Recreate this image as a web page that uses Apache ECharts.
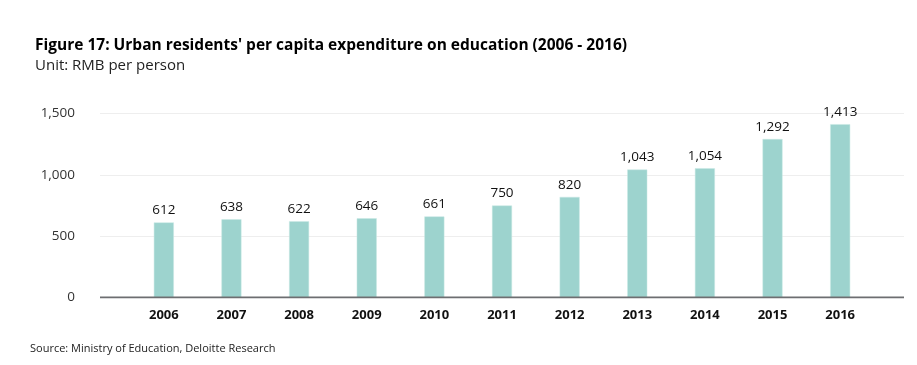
<!DOCTYPE html>
<html><head><meta charset="utf-8">
<script src="https://cdn.jsdelivr.net/npm/echarts@6/dist/echarts.min.js"></script>
<style>html,body{margin:0;padding:0;background:#fff}#c{width:917px;height:365px}</style>
</head><body><div id="c"></div>
<script>
var categories = ['2006','2007','2008','2009','2010','2011','2012','2013','2014','2015','2016'];
var values = [612, 638, 622, 646, 661, 750, 820, 1043, 1054, 1292, 1413];
var yTicks = [0, 500, 1000, 1500];
var titleText = "Figure 17: Urban residents' per capita expenditure on education (2006 - 2016)";
var subText = "Unit: RMB per person";
var sourceText = "Source: Ministry of Education, Deloitte Research";

var FONT = '"Open Sans", "Noto Sans", sans-serif';
function fmt(v){ return Number(v).toLocaleString('en-US'); }
var chart = echarts.init(document.getElementById('c'), null, {renderer:'canvas'});
chart.setOption({
  animation:false,
  textStyle:{fontFamily:FONT},
  title:[
    {text:titleText, left:30, top:33, textStyle:{fontFamily:FONT, fontSize:15.5, fontWeight:'bold', color:'#000'}},
    {text:subText, left:30, top:53, textStyle:{fontFamily:FONT, fontSize:15, fontWeight:'normal', color:'#222'}},
    {text:sourceText, left:25, top:338, textStyle:{fontFamily:FONT, fontSize:11, fontWeight:'normal', color:'#222'}}
  ],
  grid:[
    {left:100, right:13, top:113.5, bottom:67.5},
    {left:130, right:43, top:113.5, bottom:67.5}
  ],
  xAxis:[
    {gridIndex:0, type:'value', min:0, max:1, show:true, axisLabel:{show:false}, axisTick:{show:false}, splitLine:{show:false}, axisLine:{show:false}},
    {gridIndex:1, type:'category', data:categories, axisLine:{show:false}, axisTick:{show:false},
     axisLabel:{fontFamily:FONT, fontSize:13, fontWeight:'bold', color:'#111', margin:11}}
  ],
  yAxis:[
    {gridIndex:0, type:'value', min:0, max:1500, interval:500,
     axisLine:{show:false}, axisTick:{show:false},
     axisLabel:{fontFamily:FONT, fontSize:13.5, color:'#333', margin:25, formatter:function(v){return fmt(v);}},
     splitLine:{lineStyle:{color:'#eeeeee', width:1}}},
    {gridIndex:1, type:'value', min:0, max:1500, interval:500, show:false}
  ],
  series:[
    {type:'line', xAxisIndex:0, yAxisIndex:0, data:[[0,0],[1,0]], symbol:'none', silent:true,
     lineStyle:{color:'#6d6e71', width:2}, z:5},
    {type:'bar', xAxisIndex:1, yAxisIndex:1, data:values, barWidth:20,
     itemStyle:{color:'#9dd3ce', borderColor:'#c8e8e5', borderWidth:0.5},
     label:{show:true, position:'top', distance:5, fontFamily:FONT, fontSize:13.5, color:'#111',
            formatter:function(p){return fmt(p.value);}}, z:3}
  ]
});
</script></body></html>
